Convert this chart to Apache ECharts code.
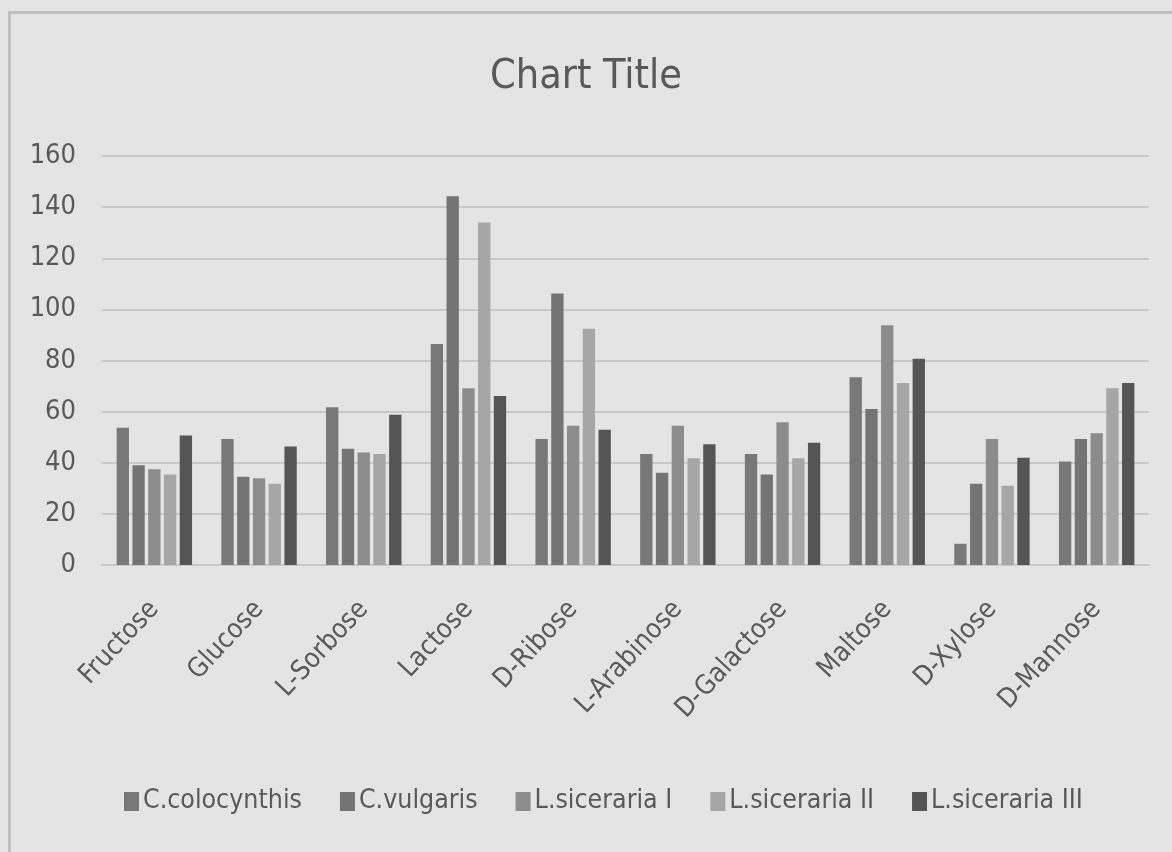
<!DOCTYPE html>
<html>
<head>
<meta charset="utf-8">
<script src="https://cdn.jsdelivr.net/npm/echarts@6/dist/echarts.min.js"></script>
<style>
  html, body { margin: 0; padding: 0; background: #e4e4e4; }
  #chart { width: 1172px; height: 852px; }
</style>
</head>
<body>
<div id="chart"></div>
<script>
// Sugar categories on the x axis
const categories = ['Fructose', 'Glucose', 'L-Sorbose', 'Lactose', 'D-Ribose',
  'L-Arabinose', 'D-Galactose', 'Maltose', 'D-Xylose', 'D-Mannose'];

// One array per species
const cColocynthis  = [53.7, 49.3, 61.7, 86.5, 49.3, 43.4, 43.4, 73.4, 8.3, 40.5];
const cVulgaris     = [39.0, 34.5, 45.5, 144.3, 106.2, 36.1, 35.4, 61.0, 31.8, 49.3];
const lSicerariaI   = [37.5, 33.9, 44.0, 69.1, 54.5, 54.5, 55.8, 93.8, 49.3, 51.5];
const lSicerariaII  = [35.4, 31.8, 43.4, 134.0, 92.4, 41.8, 41.8, 71.2, 31.0, 69.1];
const lSicerariaIII = [50.7, 46.4, 58.8, 66.1, 52.9, 47.2, 47.8, 80.7, 42.0, 71.2];

const seriesNames = ['C.colocynthis', 'C.vulgaris', 'L.siceraria I', 'L.siceraria II', 'L.siceraria III'];
const seriesData = [cColocynthis, cVulgaris, lSicerariaI, lSicerariaII, lSicerariaIII];
const seriesColors = ['#787878', '#747474', '#8c8c8c', '#a6a6a6', '#555555'];

const FONT = '"Liberation Sans Narrow", "DejaVu Sans Condensed", "Noto Sans", sans-serif';
const TEXT = '#595959';

const chart = echarts.init(document.getElementById('chart'), null, { renderer: 'canvas' });

chart.setOption({
  backgroundColor: '#e4e4e4',
  animation: false,
  title: {
    text: 'Chart Title',
    left: 'center',
    top: 52,
    textStyle: { fontFamily: FONT, fontSize: 41, fontWeight: 'normal', color: TEXT }
  },
  legend: {
    data: seriesNames,
    left: 119,
    top: 783,
    icon: 'rect',
    itemWidth: 15,
    itemHeight: 19,
    itemGap: 38,
    textStyle: { fontFamily: FONT, fontSize: 26.5, color: TEXT, padding: [0, 0, 0, -1] }
  },
  grid: { left: 102, right: 23, top: 156, bottom: 287, containLabel: false },
  xAxis: {
    type: 'category',
    data: categories,
    axisTick: { show: false },
    axisLine: { lineStyle: { color: '#c8c8c8', width: 2 } },
    axisLabel: {
      rotate: 47,
      margin: 40,
      interval: 0,
      fontFamily: FONT,
      fontSize: 27,
      color: TEXT
    }
  },
  yAxis: {
    type: 'value',
    min: 0,
    max: 160,
    interval: 20,
    axisLine: { show: false },
    axisTick: { show: false },
    splitLine: { lineStyle: { color: '#c8c8c8', width: 2 } },
    axisLabel: { fontFamily: FONT, fontSize: 27, color: TEXT, margin: 26 }
  },
  series: seriesNames.map((name, i) => ({
    name: name,
    type: 'bar',
    data: seriesData[i],
    barGap: '28%',
    barCategoryGap: '28%',
    itemStyle: { color: seriesColors[i] }
  })),
  graphic: [{
    type: 'rect',
    shape: { x: 9.5, y: 12.5, width: 1200, height: 900 },
    style: { fill: null, stroke: '#bfbfbf', lineWidth: 3 },
    silent: true
  }]
});
</script>
</body>
</html>
